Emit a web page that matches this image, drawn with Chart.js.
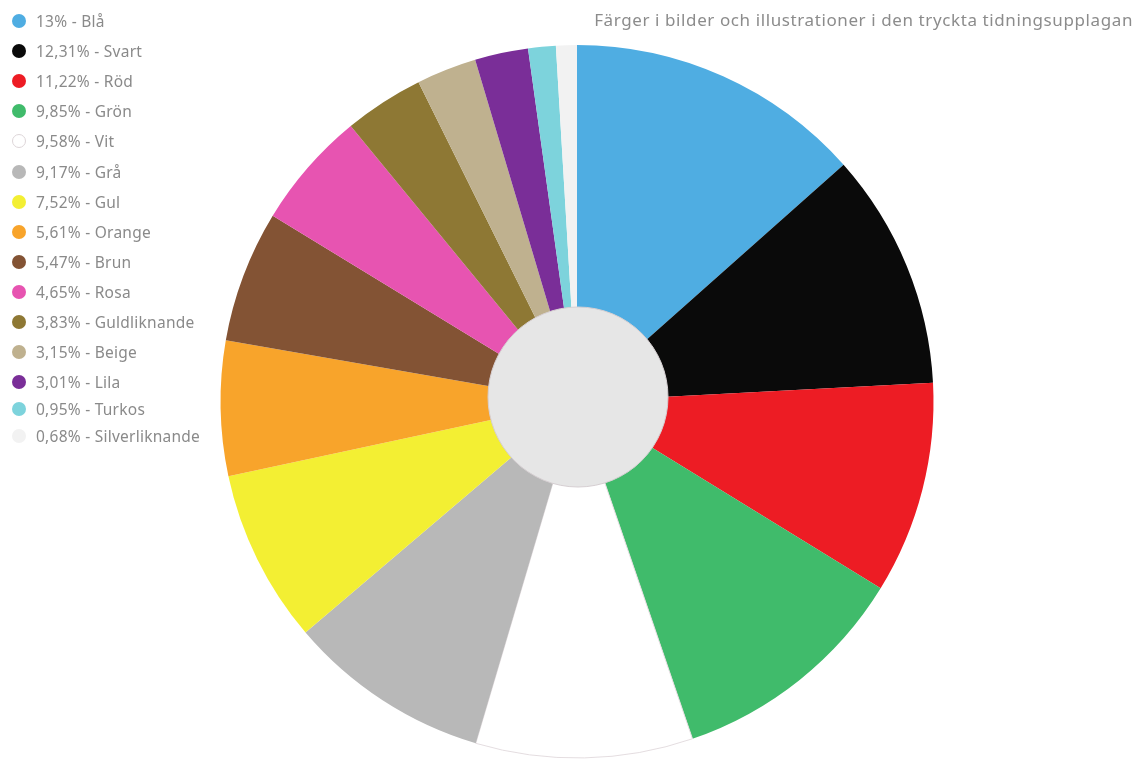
<!DOCTYPE html>
<html>
<head>
<meta charset="utf-8">
<script src="https://cdn.jsdelivr.net/npm/chart.js@4/dist/chart.umd.min.js"></script>
<style>
  html, body { margin:0; padding:0; background:#fff; }
  #wrap { position:relative; width:1141px; height:759px; font-family:"Noto Sans", sans-serif; }
  #title { position:absolute; right:8px; top:8px; font-size:17px; letter-spacing:0.6px; color:#8c8c8c; white-space:nowrap; }
  #legend { position:absolute; left:0; top:0; }
  .row { position:absolute; left:12px; height:20px; display:flex; align-items:center; font-size:15.5px; letter-spacing:0.25px; color:#8a8a8a; white-space:nowrap; }
  .dot { width:14px; height:14px; border-radius:50%; margin-right:10px; box-sizing:border-box; }
</style>
</head>
<body>
<div id="wrap">
  <canvas id="pie" width="1141" height="759"></canvas>
  <div id="title">Färger i bilder och illustrationer i den tryckta tidningsupplagan</div>
  <div id="legend"></div>
</div>
<script>
const colorNames = ['Blå','Svart','Röd','Grön','Vit','Grå','Gul','Orange','Brun','Rosa','Guldliknande','Beige','Lila','Turkos','Silverliknande'];
const shareLabels = ['13%','12,31%','11,22%','9,85%','9,58%','9,17%','7,52%','5,61%','5,47%','4,65%','3,83%','3,15%','3,01%','0,95%','0,68%'];
// slice sizes as drawn in the picture (degrees)
const sliceSizes = [48.4, 38.6, 34.6, 39.5, 35.4, 33.1, 28.3, 22.0, 21.5, 19.2, 13.0, 9.8, 8.7, 4.5, 3.4];
const sliceColors = ['#4fade2','#0a0a0a','#ed1c24','#40bb6b','#ffffff','#b8b8b8','#f3ef33','#f8a42b','#835334','#e754b1','#8e7834','#bfb18f','#7a2e98','#7dd3dc','#f2f2f2'];

const legend = document.getElementById('legend');
colorNames.forEach((name, i) => {
  const row = document.createElement('div');
  row.className = 'row';
  const center = i < 13 ? 21 + 30.1 * i : 382 + 27 * (i - 12);
  row.style.top = (center - 10) + 'px';
  const dot = document.createElement('span');
  dot.className = 'dot';
  dot.style.background = sliceColors[i];
  if (name === 'Vit') dot.style.border = '1px solid #ddd5d8';
  row.appendChild(dot);
  const txt = document.createElement('span');
  txt.textContent = shareLabels[i] + ' - ' + name;
  row.appendChild(txt);
  legend.appendChild(row);
});

const hole = {
  id: 'hole',
  afterDatasetsDraw(chart) {
    const arc = chart.getDatasetMeta(0).data[0];
    const ctx = chart.ctx;
    ctx.save();
    ctx.beginPath();
    ctx.arc(arc.x + 1, arc.y - 4.5, 90, 0, Math.PI * 2);
    ctx.fillStyle = '#e6e6e6';
    ctx.fill();
    ctx.lineWidth = 1;
    ctx.strokeStyle = '#d6cfd2';
    ctx.stroke();
    ctx.restore();
  }
};

new Chart(document.getElementById('pie'), {
  type: 'pie',
  data: {
    labels: colorNames,
    datasets: [{
      data: sliceSizes,
      backgroundColor: sliceColors,
      borderColor: sliceColors.map(c => c === '#ffffff' ? '#e4dde0' : c),
      borderWidth: sliceColors.map(c => c === '#ffffff' ? 1 : 0)
    }]
  },
  options: {
    responsive: false,
    animation: false,
    layout: { padding: { left: 220, right: 207, top: 44.5, bottom: 0.5 } },
    plugins: { legend: { display: false }, tooltip: { enabled: false } }
  },
  plugins: [hole]
});
</script>
</body>
</html>
